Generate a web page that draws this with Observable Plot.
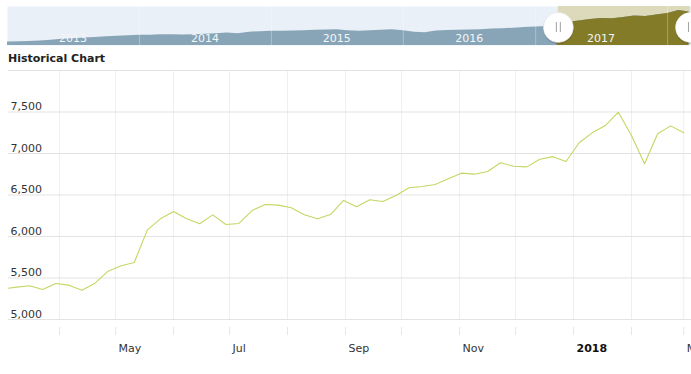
<!DOCTYPE html>
<html><head><meta charset="utf-8">
<script src="https://cdn.jsdelivr.net/npm/d3@7"></script>
<script src="https://cdn.jsdelivr.net/npm/@observablehq/plot@0.6"></script>
<style>
body{margin:0;background:#fff;width:691px;height:374px;overflow:hidden;position:relative;font-family:"DejaVu Sans",Verdana,sans-serif;}
#nav{position:absolute;left:0;top:0;}
#title{position:absolute;left:8px;top:52px;font-size:11px;line-height:13px;font-weight:bold;color:#222;}
#main{position:absolute;left:0;top:64px;}
</style></head><body>
<div id="nav"></div><div id="title">Historical Chart</div><div id="main"></div>
<script>
// ---- main series (weekly) ----
const weekDates = [
 "2017-03-02","2017-03-09","2017-03-16","2017-03-23","2017-03-30",
 "2017-04-06","2017-04-13","2017-04-20","2017-04-27",
 "2017-05-04","2017-05-11","2017-05-18","2017-05-25",
 "2017-06-01","2017-06-08","2017-06-15","2017-06-22","2017-06-29",
 "2017-07-06","2017-07-13","2017-07-20","2017-07-27",
 "2017-08-03","2017-08-10","2017-08-17","2017-08-24","2017-08-31",
 "2017-09-07","2017-09-14","2017-09-21","2017-09-28",
 "2017-10-05","2017-10-12","2017-10-19","2017-10-26",
 "2017-11-02","2017-11-09","2017-11-16","2017-11-23","2017-11-30",
 "2017-12-07","2017-12-14","2017-12-21","2017-12-28",
 "2018-01-04","2018-01-11","2018-01-18","2018-01-25",
 "2018-02-01","2018-02-08","2018-02-15","2018-02-22","2018-03-01"];
const weekValues = [
 5370,5390,5406,5361,5434,
 5414,5353,5438,5582,
 5647,5687,6080,6213,
 6301,6213,6153,6261,6145,
 6157,6313,6386,6378,
 6346,6261,6213,6265,6434,
 6358,6442,6422,6494,
 6587,6602,6627,6695,
 6763,6751,6783,6888,6847,
 6839,6931,6962,6904,
 7130,7249,7337,7498,
 7217,6876,7237,7333,7249];

// axis ticks / labels
const monthGrid = ["2017-04-01","2017-05-01","2017-06-01","2017-07-01","2017-08-01","2017-09-01",
 "2017-10-01","2017-11-01","2017-12-01","2018-01-01","2018-02-01","2018-03-01"];
const xLabelDates = ["2017-05-01","2017-07-01","2017-09-01","2017-11-01","2018-03-01"];
const xLabels = ["May","Jul","Sep","Nov","Mar"];
const xYearLabelDates = ["2018-01-01"];
const xYearLabels = ["2018"];
const yGrid = [5000,5500,6000,6500,7000,7500,8000];
const yLabels = [5000,5500,6000,6500,7000,7500];

// ---- navigator series (monthly) ----
const navMonths = [
 "2013-01-01","2013-02-01","2013-03-01","2013-04-01","2013-05-01","2013-06-01","2013-07-01","2013-08-01","2013-09-01","2013-10-01","2013-11-01","2013-12-01",
 "2014-01-01","2014-02-01","2014-03-01","2014-04-01","2014-05-01","2014-06-01","2014-07-01","2014-08-01","2014-09-01","2014-10-01","2014-11-01","2014-12-01",
 "2015-01-01","2015-02-01","2015-03-01","2015-04-01","2015-05-01","2015-06-01","2015-07-01","2015-08-01","2015-09-01","2015-10-01","2015-11-01","2015-12-01",
 "2016-01-01","2016-02-01","2016-03-01","2016-04-01","2016-05-01","2016-06-01","2016-07-01","2016-08-01","2016-09-01","2016-10-01","2016-11-01","2016-12-01",
 "2017-01-01","2017-02-01","2017-03-01","2017-04-01","2017-05-01","2017-06-01","2017-07-01","2017-08-01","2017-09-01","2017-10-01","2017-11-01","2017-12-01",
 "2018-01-01","2018-02-01","2018-03-01"];
const navValues = [
 2088,2121,2154,2255,2371,2538,2622,2756,2839,2956,3039,3123,
 3206,3240,3307,3323,3273,3290,3373,3490,3591,3457,3741,3824,
 3874,3874,3925,3975,4041,4108,4158,3958,3874,3958,4041,4125,
 3958,3707,3624,3925,4008,4041,4108,4158,4259,4309,4409,4509,
 4626,4709,5380,5420,5628,5878,6045,5995,6212,6463,6379,6630,
 6880,7381,7131];
const navYears = [2013,2014,2015,2016,2017];
const navYearGrid = ["2014-01-01","2015-01-01","2016-01-01","2017-01-01","2018-01-01"];

const parse = d3.utcParse("%Y-%m-%d");
const data = weekDates.map((d,i)=>({date: parse(d), value: weekValues[i]}));
const navData = navMonths.map((d,i)=>({date: parse(d), value: navValues[i]}));
const xDomain = [new Date(Date.UTC(2017,2,4,17)), new Date(Date.UTC(2018,2,5,3))];
const sel = xDomain;
const olive = navData.filter(d => d.date >= parse("2017-03-01") && d.date <= parse("2018-03-01"));
const fmt = d3.format(",");

const nav = Plot.plot({
  width: 691, height: 47, marginTop: 6, marginBottom: 2, marginLeft: 7, marginRight: 0,
  style: {fontFamily: "DejaVu Sans", fontSize: "11px", background: "transparent", overflow: "hidden"},
  x: {type: "utc", domain: [new Date(Date.UTC(2013,0,1)), new Date(Date.UTC(2018,2,8))], axis: null},
  y: {domain: [1500, 8050], axis: null},
  marks: [
    Plot.frame({fill: "#e9f0f7", stroke: null}),
    Plot.rect([sel], {x1: d=>d[0], x2: d=>d[1], fill: "#dcdabb"}),
    Plot.areaY(navData, {x: "date", y: "value", fill: "#88a5b8", clip: true}),
    Plot.areaY(olive, {x: "date", y: "value", fill: "#847b28", clip: true}),
    Plot.ruleX(navYearGrid, {x: d=>parse(d), stroke: "#ffffff", strokeOpacity: 0.3}),
    Plot.text(navYears, {x: d=>new Date(Date.UTC(d,6,1)), text: d=>String(d), frameAnchor: "bottom", lineAnchor: "bottom", dy: -4, fill: "#f3f6f9"}),
    Plot.dot(sel, {x: d=>d, r: 15.5, dy: 2.5, fill: "#000", fillOpacity: 0.12, stroke: null}),
    Plot.dot(sel, {x: d=>d, r: 15, dy: 1.5, fill: "#fff", stroke: "#e2e2e2", strokeWidth: 0.5}),
    Plot.ruleX(sel, {x: d=>d, dx: -2, insetTop: 16, insetBottom: 13, stroke: "#a0a0a0"}),
    Plot.ruleX(sel, {x: d=>d, dx: 2, insetTop: 16, insetBottom: 13, stroke: "#a0a0a0"})
  ]
});
document.getElementById("nav").appendChild(nav);

const main = Plot.plot({
  width: 691, height: 310, marginTop: 6, marginBottom: 55, marginLeft: 8, marginRight: 0,
  style: {fontFamily: "DejaVu Sans", fontSize: "11px", background: "#fff"},
  x: {type: "utc", domain: xDomain, axis: null},
  y: {domain: [5000, 8000], axis: null},
  marks: [
    Plot.ruleX(monthGrid, {x: d=>parse(d), stroke: "#efefef"}),
    Plot.ruleY(yGrid, {stroke: "#e3e3e3"}),
    Plot.ruleX(monthGrid, {x: d=>parse(d), y1: 4904, y2: 4807, stroke: "#e6e6e6"}),
    Plot.text(yLabels, {y: d=>d, text: d=>fmt(d), frameAnchor: "left", textAnchor: "start", lineAnchor: "bottom", dx: 2, dy: -2, fill: "#333"}),
    Plot.text(xLabelDates, {x: d=>parse(d), text: (d,i)=>xLabels[i], frameAnchor: "bottom", textAnchor: "start", lineAnchor: "bottom", dx: 3, dy: 32, fill: "#333"}),
    Plot.text(xYearLabelDates, {x: d=>parse(d), text: (d,i)=>xYearLabels[i], frameAnchor: "bottom", textAnchor: "start", lineAnchor: "bottom", dx: 3, dy: 32, fill: "#111", fontWeight: "bold"}),
    Plot.line(data, {x: "date", y: "value", stroke: "#c3d762", strokeWidth: 1.1, clip: true})
  ]
});
document.getElementById("main").appendChild(main);
</script></body></html>
